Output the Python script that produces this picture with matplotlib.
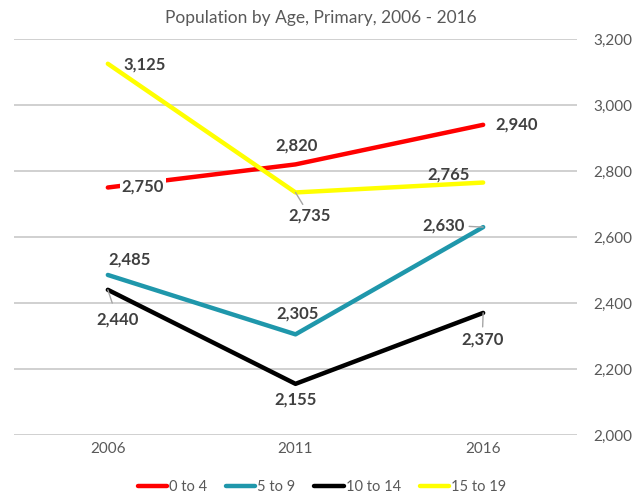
import matplotlib
matplotlib.use("Agg")
import matplotlib.pyplot as plt
from matplotlib.ticker import FuncFormatter

plt.rcParams['font.family'] = ['Lato', 'DejaVu Sans']

years = ["2006", "2011", "2016"]
series_names = ["0 to 4", "5 to 9", "10 to 14", "15 to 19"]
age_0_4 = [2750, 2820, 2940]
age_5_9 = [2485, 2305, 2630]
age_10_14 = [2440, 2155, 2370]
age_15_19 = [3125, 2735, 2765]
y_ticks = [2000, 2200, 2400, 2600, 2800, 3000, 3200]

values = [age_0_4, age_5_9, age_10_14, age_15_19]
colors = ["#FF0000", "#1F97AB", "#000000", "#FFFF00"]

# label offsets in pixels (dx, dy), leader line flag, white background flag
offsets = [
    [(35, 1, False, True), (1, 19, False, False), (33, 0, False, False)],
    [(22, 15, False, False), (2, 21, False, False), (-40, 2, True, False)],
    [(10, -30, True, False), (0, -16, False, False), (-1, -27, True, False)],
    [(37, -1, False, False), (14, -23, True, False), (-35, 8, False, False)],
]

fig = plt.figure(figsize=(6.42, 4.99), dpi=100)
ax = fig.add_axes([14/642, 1 - 435/499, (577 - 14)/642, (435 - 39)/499])

x = list(range(len(years)))
for name, vals, col in zip(series_names, values, colors):
    ax.plot(x, vals, color=col, lw=3.2, label=name, solid_capstyle='round', zorder=3)

for vals, offs in zip(values, offsets):
    for xi, v, (dx, dy, lead, bg) in zip(x, vals, offs):
        kw = {}
        if bg:
            kw['bbox'] = dict(boxstyle='square,pad=0.1', fc='white', ec='none')
        ax.annotate(f"{v:,}", xy=(xi, v), xytext=(dx, dy), textcoords='offset pixels',
                    ha='center', va='center', fontsize=12, fontweight='bold',
                    color='#404040', zorder=5, **kw)
        if lead:
            L = (dx**2 + dy**2) ** 0.5
            frac = 14 / L if L > 0 else 0
            ax.annotate("", xy=(xi, v), xytext=(dx * frac, dy * frac),
                        textcoords='offset pixels',
                        arrowprops=dict(arrowstyle='-', color='#A6A6A6', lw=1,
                                        shrinkA=0, shrinkB=0), zorder=4)

ax.set_xlim(-0.5, 2.5)
ax.set_ylim(2000, 3200)
ax.set_xticks(x)
ax.set_xticklabels(years)
ax.set_yticks(y_ticks)
ax.yaxis.set_major_formatter(FuncFormatter(lambda v, p: f"{int(v):,}"))
ax.yaxis.tick_right()
ax.tick_params(axis='y', length=0, pad=12, labelsize=11, labelcolor='#595959')
ax.tick_params(axis='x', length=0, pad=5, labelsize=11, labelcolor='#595959')
for s in ax.spines.values():
    s.set_visible(False)
ax.grid(axis='y', color='#C8C8C8', lw=1.2, zorder=0)
ax.set_axisbelow(True)

fig.text(0.5, 1 - 18/499, "Population by Age, Primary, 2006 - 2016", ha='center', va='center',
         fontsize=12.5, color='#595959')

leg = fig.legend(loc='center', bbox_to_anchor=(322/642, 1 - 487/499), ncol=4, frameon=False,
                 fontsize=10.5, handlelength=2.0, handletextpad=0.15, columnspacing=1.3,
                 labelcolor='#595959')

fig.savefig("out.png", dpi=100)
